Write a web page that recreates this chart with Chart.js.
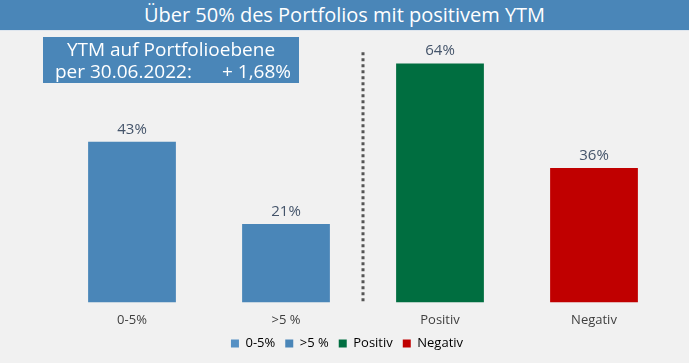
<!DOCTYPE html>
<html>
<head>
<meta charset="utf-8">
<script src="https://cdn.jsdelivr.net/npm/chart.js@4"></script>
<style>
  body { margin: 0; background: #f1f1f1; font-family: "Open Sans", sans-serif; }
  #wrap { position: relative; width: 689px; height: 363px; }
  canvas { display: block; }
  #head {
    position: absolute; left: 0; top: 0; width: 689px; height: 30px;
    background: #4a86b8; color: #fff; font-size: 20px; line-height: 30px;
    text-align: center; border-bottom: 1px solid #dfe6ee;
  }
  #box {
    position: absolute; left: 43px; top: 37px; width: 256px; height: 46px;
    background: #4a86b8; color: #fff; font-size: 19px; line-height: 22px;
    padding-top: 1px; box-sizing: border-box;
  }
  #box div { text-align: center; }
  #box .r2 { display: flex; justify-content: space-between; padding: 0 8px 0 12px; }
</style>
</head>
<body>
<div id="wrap">
  <canvas id="chart" width="689" height="363"></canvas>
  <div id="head">Über 50% des Portfolios mit positivem YTM</div>
  <div id="box">
    <div>YTM auf Portfolioebene</div>
    <div class="r2"><span>per 30.06.2022:</span><span>+ 1,68%</span></div>
  </div>
</div>
<script>
var categories = ['0-5%', '>5 %', 'Positiv', 'Negativ'];
var values = [43, 21, 64, 36];
var barColors = ['#4a86b8', '#4a86b8', '#006e40', '#c00000'];
var legendColors = ['#5590c4', '#4a86b8', '#006e40', '#c00000'];

var labelPlugin = {
    id: 'labels',
    afterLayout: function(chart) {
        // pull the legend up under the ticks and centre it on the page
        var lg = chart.legend;
        lg.top -= 11; lg.bottom -= 11;
        lg.left -= 16; lg.right -= 16;
    },
    afterDatasetsDraw: function(chart) {
        var ctx = chart.ctx;
        var meta = chart.getDatasetMeta(0);
        ctx.save();
        ctx.fillStyle = '#44546a';
        ctx.font = '15px "Open Sans"';
        ctx.textAlign = 'center';
        ctx.textBaseline = 'bottom';
        meta.data.forEach(function(bar, i) {
            ctx.fillText(values[i] + '%', bar.x, bar.y - 5);
        });
        // dotted divider between the two groups
        var xs = chart.scales.x, ys = chart.scales.y;
        var x = (xs.getPixelForValue(1) + xs.getPixelForValue(2)) / 2;
        ctx.strokeStyle = '#555';
        ctx.lineWidth = 3;
        ctx.setLineDash([3, 3]);
        ctx.beginPath();
        ctx.moveTo(x, ys.getPixelForValue(67));
        ctx.lineTo(x, ys.getPixelForValue(0));
        ctx.stroke();
        ctx.restore();
    }
};

var chart = new Chart(document.getElementById('chart'), {
    type: 'bar',
    data: {
        labels: categories,
        datasets: [{
            data: values,
            backgroundColor: barColors,
            barPercentage: 0.57,
            categoryPercentage: 1
        }]
    },
    options: {
        responsive: false,
        animation: false,
        layout: { padding: { left: 55, right: 18, top: 41, bottom: -8 } },
        scales: {
            y: { display: false, min: 0, max: 70 },
            x: {
                grid: { display: false, drawTicks: false },
                border: { display: false },
                ticks: { color: '#404040', font: { family: 'Open Sans', size: 13 }, padding: 10 }
            }
        },
        plugins: {
            tooltip: { enabled: false },
            legend: {
                position: 'bottom',
                labels: {
                    color: '#404040',
                    font: { family: 'Open Sans', size: 13 },
                    boxWidth: 8, boxHeight: 8, padding: 10,
                    generateLabels: function() {
                        return categories.map(function(c, i) {
                            return { text: c, fillStyle: legendColors[i], strokeStyle: legendColors[i], lineWidth: 0, index: i };
                        });
                    }
                }
            }
        }
    },
    plugins: [labelPlugin]
});
</script>
</body>
</html>
